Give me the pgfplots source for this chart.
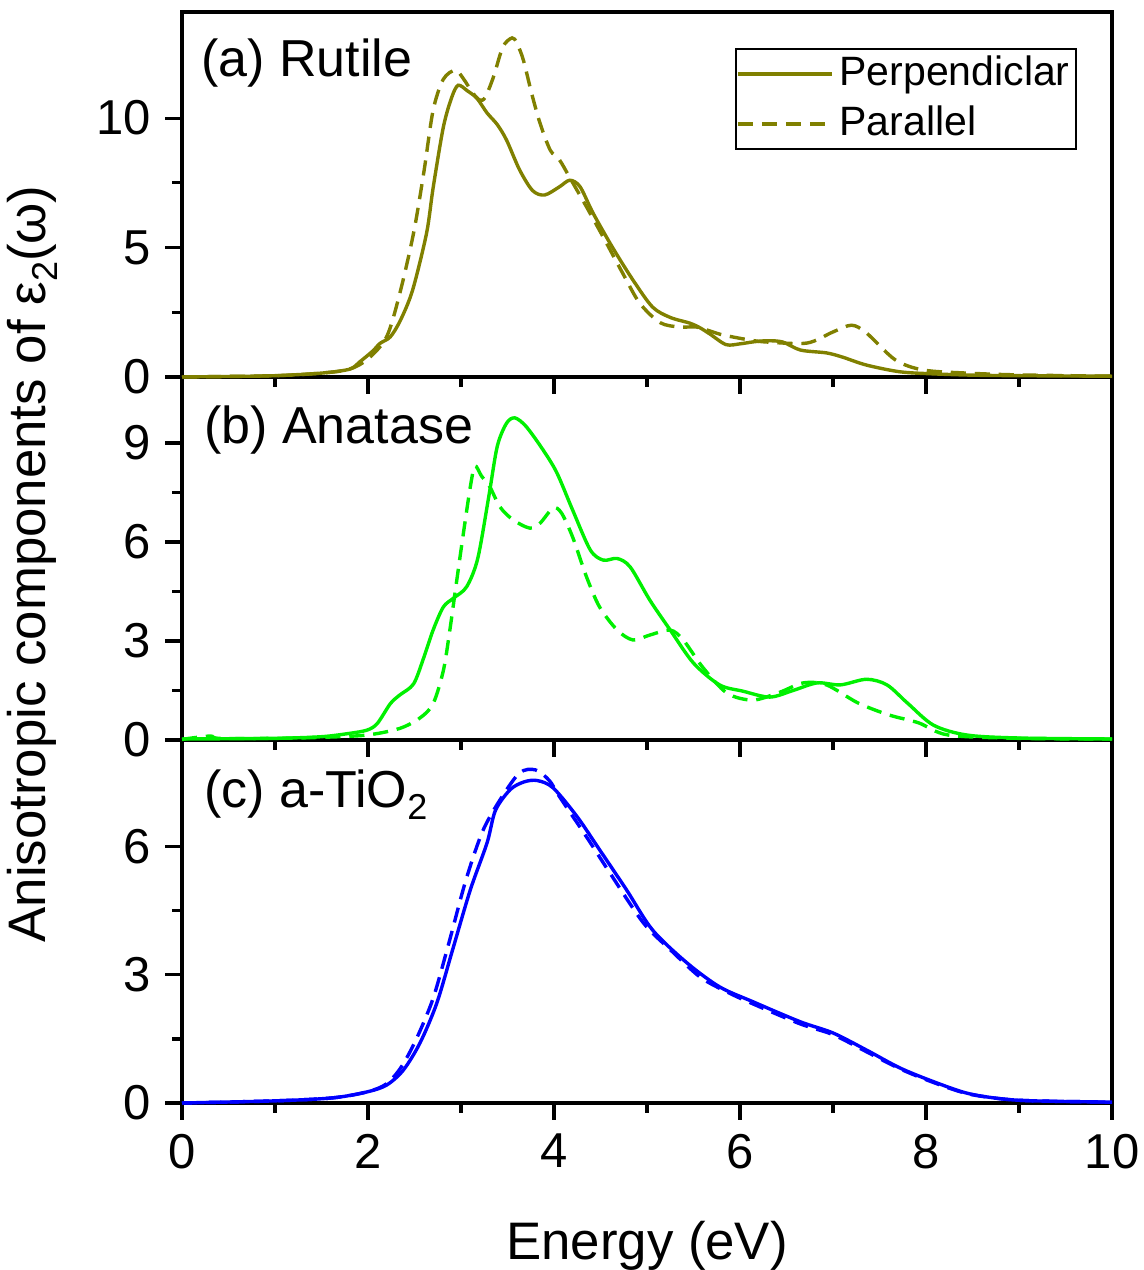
\documentclass[border=0pt]{standalone}
\usepackage{fontspec}
\setmainfont{Liberation Sans}
\usepackage{pgfplots}
\pgfplotsset{compat=1.18}
\definecolor{olv}{RGB}{128,128,0}
\definecolor{grn}{RGB}{0,240,0}
\definecolor{blu}{RGB}{0,0,255}

\pgfplotstableread{
x y
0 0
0.5 0.02
1.0 0.05
1.5 0.15
1.8 0.3
1.91 0.58
2.05 1.0
2.13 1.3
2.24 1.55
2.35 2.2
2.48 3.36
2.63 5.56
2.70 7.3
2.81 9.65
2.90 10.8
2.97 11.27
3.07 11.05
3.17 10.77
3.28 10.2
3.39 9.75
3.49 9.15
3.63 8.0
3.77 7.2
3.90 7.03
4.06 7.35
4.17 7.6
4.28 7.35
4.42 6.33
4.63 5.0
4.85 3.74
5.06 2.7
5.25 2.3
5.46 2.08
5.57 1.9
5.68 1.65
5.85 1.25
6.0 1.28
6.15 1.36
6.30 1.4
6.46 1.35
6.65 1.04
6.93 0.93
7.10 0.77
7.36 0.46
7.72 0.2
8.08 0.12
8.5 0.07
9.0 0.05
10 0.03
}\RutPerp

\pgfplotstableread{
x y
0 0
1 0.05
1.5 0.15
1.8 0.3
2.0 0.7
2.2 1.55
2.34 3.2
2.49 5.56
2.60 7.9
2.70 10.3
2.81 11.5
2.94 11.85
3.03 11.5
3.12 11.0
3.2 10.7
3.26 10.8
3.35 11.6
3.45 12.75
3.55 13.1
3.60 12.9
3.67 12.25
3.76 10.95
3.85 9.8
3.96 8.76
4.06 8.38
4.17 7.7
4.35 6.57
4.53 5.4
4.74 4.0
4.92 2.86
5.14 2.1
5.35 1.93
5.53 1.93
5.70 1.75
5.82 1.62
6.10 1.43
6.29 1.35
6.72 1.31
7.00 1.74
7.20 2.0
7.36 1.7
7.67 0.66
7.97 0.27
8.44 0.15
9 0.08
10 0.03
}\RutPara

\pgfplotstableread{
x y
0 0.03
1 0.05
1.5 0.1
1.8 0.2
1.99 0.3
2.1 0.5
2.24 1.1
2.34 1.36
2.49 1.7
2.6 2.5
2.7 3.33
2.81 4.03
2.92 4.3
3.06 4.64
3.18 5.5
3.3 7.4
3.39 8.9
3.49 9.6
3.58 9.76
3.7 9.5
3.88 8.8
4.03 8.1
4.2 6.97
4.39 5.76
4.53 5.45
4.68 5.5
4.82 5.24
5.03 4.24
5.25 3.33
5.5 2.33
5.78 1.67
6.03 1.48
6.32 1.3
6.57 1.5
6.83 1.73
7.08 1.67
7.36 1.84
7.58 1.67
7.8 1.12
8.08 0.45
8.44 0.15
9.0 0.06
10 0.03
}\AnaPerp

\pgfplotstableread{
x y
0 0.02
0.3 0.12
0.4 0.05
1 0.05
1.5 0.08
1.99 0.15
2.34 0.35
2.56 0.67
2.7 1.1
2.81 2.1
2.88 3.33
2.95 4.75
3.02 6.15
3.1 7.67
3.15 8.3
3.22 8.0
3.31 7.67
3.42 7.06
3.56 6.67
3.74 6.42
3.85 6.57
3.99 7.03
4.08 6.88
4.2 6.15
4.35 4.94
4.49 4.03
4.68 3.33
4.85 3.03
5.03 3.18
5.25 3.33
5.39 3.03
5.6 2.2
5.86 1.42
6.14 1.21
6.43 1.45
6.68 1.73
6.93 1.67
7.27 1.12
7.6 0.76
7.92 0.52
8.24 0.15
9 0.05
10 0.03
}\AnaPara

\pgfplotstableread{
x y
0 0
1 0.05
1.62 0.12
1.99 0.26
2.2 0.42
2.38 0.77
2.56 1.41
2.74 2.34
2.91 3.59
3.1 4.99
3.28 6.09
3.37 6.85
3.53 7.34
3.68 7.52
3.82 7.55
3.99 7.38
4.25 6.7
4.49 5.93
4.78 4.99
5.06 4.05
5.43 3.28
5.78 2.72
6.14 2.37
6.65 1.9
7.0 1.64
7.36 1.24
7.72 0.82
8.08 0.5
8.44 0.23
8.8 0.1
9.16 0.05
10 0.02
}\AmoPerp

\pgfplotstableread{
x y
0 0
1 0.05
1.62 0.12
1.99 0.26
2.2 0.45
2.36 0.85
2.52 1.5
2.70 2.45
2.87 3.75
3.05 5.2
3.23 6.35
3.42 7.1
3.63 7.73
3.8 7.8
3.95 7.55
4.06 7.17
4.35 6.23
4.6 5.39
4.96 4.22
5.25 3.59
5.57 2.95
5.86 2.6
6.14 2.32
6.65 1.85
7.0 1.6
7.36 1.2
7.72 0.8
8.08 0.48
8.44 0.22
8.8 0.1
9.16 0.05
10 0.02
}\AmoPara

\pgfplotsset{
 panel/.style={
  scale only axis, width=232.5pt, xmin=0, xmax=10, ymin=0,
  xtick={0,2,...,10}, minor x tick num=1, minor y tick num=1,
  tick align=outside, xtick pos=bottom, ytick pos=left,
  major tick length=4.2pt, minor tick length=2.4pt,
  every tick/.style={black, line width=0.8pt},
  axis line style={line width=0.8pt},
  /pgf/number format/assume math mode=true,
  ticklabel style={font=\fontsize{12.25}{14}\selectfont},
  clip=false,
 },
 perp/.style={line width=0.85pt, smooth},
 para/.style={line width=0.85pt, smooth, dash pattern=on 3.8pt off 2.2pt},
}

\begin{document}
\begin{tikzpicture}
% panel (c)
\begin{axis}[panel, at={(0pt,0pt)}, anchor=south west, height=90.75pt,
  ymax=8.5, ytick={0,3,6}]
\addplot[blu, perp] table {\AmoPerp};
\addplot[blu, para] table {\AmoPara};
\node[anchor=base west, inner sep=0pt, font=\fontsize{13}{15}\selectfont] at (rel axis cs:0.023,0.815) {(c) a-TiO\raisebox{-0.45ex}{\fontsize{9}{10}\selectfont 2}};
\end{axis}
% panel (b)
\begin{axis}[panel, at={(0pt,90.75pt)}, anchor=south west, height=90.75pt,
  ymax=11, ytick={0,3,6,9}, xticklabels={}]
\addplot[grn, perp] table {\AnaPerp};
\addplot[grn, para] table {\AnaPara};
\node[anchor=base west, inner sep=0pt, font=\fontsize{13}{15}\selectfont] at (rel axis cs:0.023,0.818) {(b) Anatase};
\end{axis}
% panel (a)
\begin{axis}[panel, at={(0pt,181.5pt)}, anchor=south west, height=91.25pt,
  ymax=14.1, ytick={0,5,10}, xticklabels={},
  legend style={at={(0.962,0.901)}, anchor=north east, draw=black, line width=0.5pt,
    font=\fontsize{10.25}{12.5}\selectfont, inner sep=0pt,
    nodes={text height=8pt, text depth=2.5pt, inner ysep=1pt, inner xsep=1.5pt},
    cells={anchor=west}},
  legend image code/.code={\draw[#1] (0pt,0pt) -- (23.5pt,0pt);}]
\addplot[olv, perp] table {\RutPerp};
\addlegendentry{Perpendiclar}
\addplot[olv, para] table {\RutPara};
\addlegendentry{Parallel}
\node[anchor=base west, inner sep=0pt, font=\fontsize{13}{15}\selectfont] at (rel axis cs:0.02,0.822) {(a) Rutile};
\end{axis}
\node[anchor=base, inner sep=0pt, font=\fontsize{13.2}{15}\selectfont] at (116.25pt,-39pt) {Energy (eV)};
\node[rotate=90, anchor=base, inner sep=0pt, font=\fontsize{13.2}{15}\selectfont] at (-34.25pt,134.75pt) {Anisotropic components of ε\raisebox{-0.45ex}{\fontsize{9}{10}\selectfont 2}(ω)};
\pgfresetboundingbox
\path[use as bounding box] (-45.5pt,-41.75pt) rectangle (240.25pt,275.75pt);
\end{tikzpicture}
\end{document}
